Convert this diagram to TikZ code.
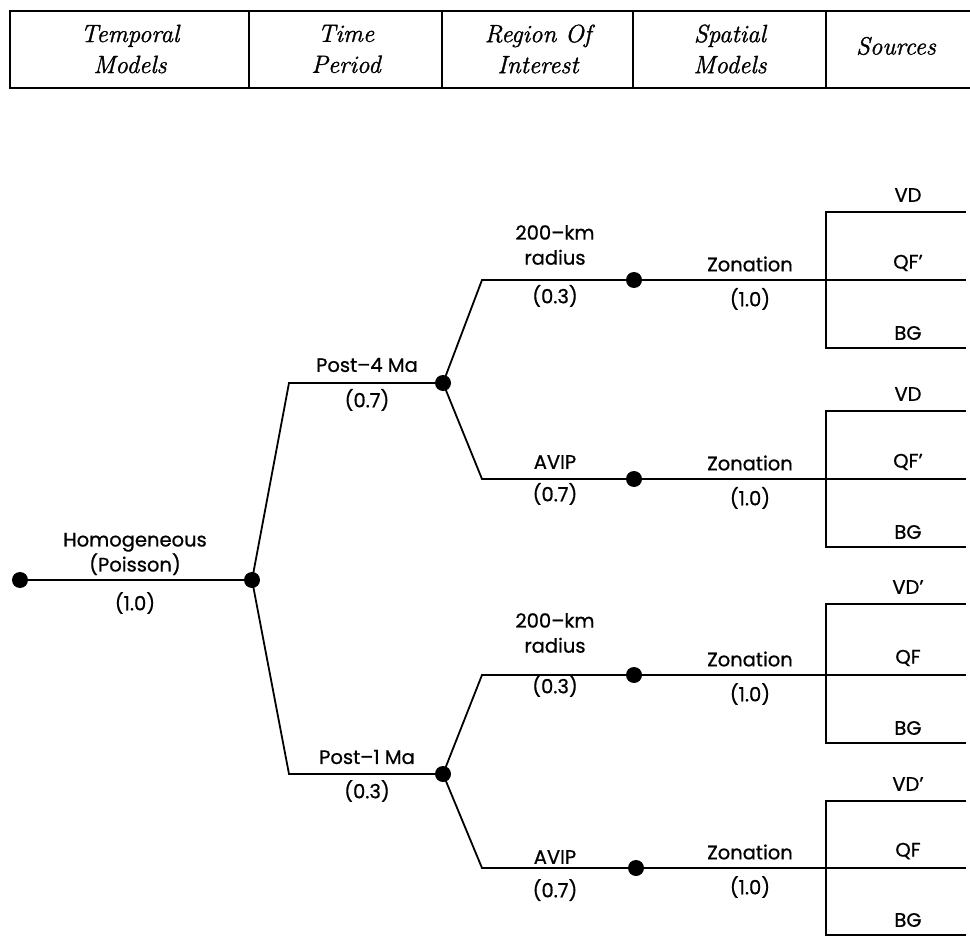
\documentclass[tikz,border=0pt]{standalone}
\usepackage{fontspec}
\newfontfamily\treefont[FakeBold=0.8]{Poppins}
\newfontfamily\hdrfont[FakeBold=1.2]{Latin Modern Roman}
\begin{document}
\begin{tikzpicture}[x=1pt,y=-1pt,
  dot/.style={circle, fill=black, inner sep=0pt, minimum size=16pt},
  ln/.style={line width=1.8pt},
  hdrline/.style={line width=2.2pt},
  lbl/.style={font=\treefont\fontsize{19.5}{25}\selectfont, inner sep=0pt, align=center},
  hdr/.style={font=\hdrfont\itshape\fontsize{25}{31}\selectfont, inner sep=0pt, align=center}]
\useasboundingbox (0,0) rectangle (970,936);
% header
\draw[hdrline] (970,11) -- (10,11) -- (10,88) -- (970,88);
\foreach \x in {249,442,633,826} \draw[hdrline] (\x,11) -- (\x,88);
\node[hdr] (h1) at (130,49) {Temporal\\Models};
\node[hdr] (h2) at (346,49) {Time\\Period};
\node[hdr] (h3) at (538,49) {Region Of\\Interest};
\node[hdr] (h4) at (730,49) {Spatial\\Models};
\node[hdr] (h5) at (896,46) {Sources};
% dots
\node[dot] (r) at (20,580) {};
\node[dot] (a) at (252,580) {};
\node[dot] (b1) at (443,383) {};
\node[dot] (b2) at (443,774) {};
\node[dot] (c1) at (634,280) {};
\node[dot] (c2) at (634,479) {};
\node[dot] (c3) at (634,675) {};
\node[dot] (c4) at (636,868) {};
% bends
\coordinate (a1) at (289,383);
\coordinate (a2) at (289,774);
\coordinate (d1) at (482,280);
\coordinate (d2) at (482,479);
\coordinate (d3) at (482,675);
\coordinate (d4) at (482,868);
\draw[ln] (r.center) -- (a.center);
\draw[ln] (a.center) -- (a1) -- (b1.center);
\draw[ln] (a.center) -- (a2) -- (b2.center);
\draw[ln] (b1.center) -- (d1) -- (c1.center);
\draw[ln] (b1.center) -- (d2) -- (c2.center);
\draw[ln] (b2.center) -- (d3) -- (c3.center);
\draw[ln] (b2.center) -- (d4) -- (c4.center);
% source boxes
\foreach \i/\t/\m/\b/\u/\v in {1/212/280/348/VD/QF\textquoteright, 2/411/479/547/VD/QF\textquoteright, 3/604/675/743/VD\textquoteright/QF, 4/801/868/935/VD\textquoteright/QF}{
  \coordinate (s\i t) at (826,\t);
  \coordinate (s\i b) at (826,\b);
  \coordinate (e\i t) at (966,\t);
  \coordinate (e\i m) at (966,\m);
  \coordinate (e\i b) at (966,\b);
  \draw[ln] (c\i.center) -- (e\i m);
  \draw[ln] (e\i t) -- (s\i t) -- (s\i b) -- (e\i b);
  \node[lbl] (sv\i) at (908,\t-17) {\u};
  \node[lbl] (sq\i) at (908,\m-17) {\v};
  \node[lbl] (sg\i) at (908,\b-15) {BG};
  \node[lbl] (z\i) at (750,\m-16) {Zonation};
  \node[lbl] (zp\i) at (750,\m+19) {(1.0)};
}
% labels
\node[lbl] (lh) at (135,554) {Homogeneous\\(Poisson)};
\node[lbl] (lhp) at (135,603) {(1.0)};
\node[lbl] (l4) at (367,365) {Post\textendash4 Ma};
\node[lbl] (l4p) at (367,400) {(0.7)};
\node[lbl] (l1) at (367,757) {Post\textendash1 Ma};
\node[lbl] (l1p) at (367,791) {(0.3)};
\node[lbl] (r1) at (555,245) {200\textendash km\\radius};
\node[lbl] (r1p) at (555,296) {(0.3)};
\node[lbl] (v1) at (555,462) {AVIP};
\node[lbl] (v1p) at (555,494) {(0.7)};
\node[lbl] (r2) at (555,633) {200\textendash km\\radius};
\node[lbl] (r2p) at (555,686) {(0.3)};
\node[lbl] (v2) at (555,857) {AVIP};
\node[lbl] (v2p) at (555,890) {(0.7)};
\end{tikzpicture}
\end{document}
